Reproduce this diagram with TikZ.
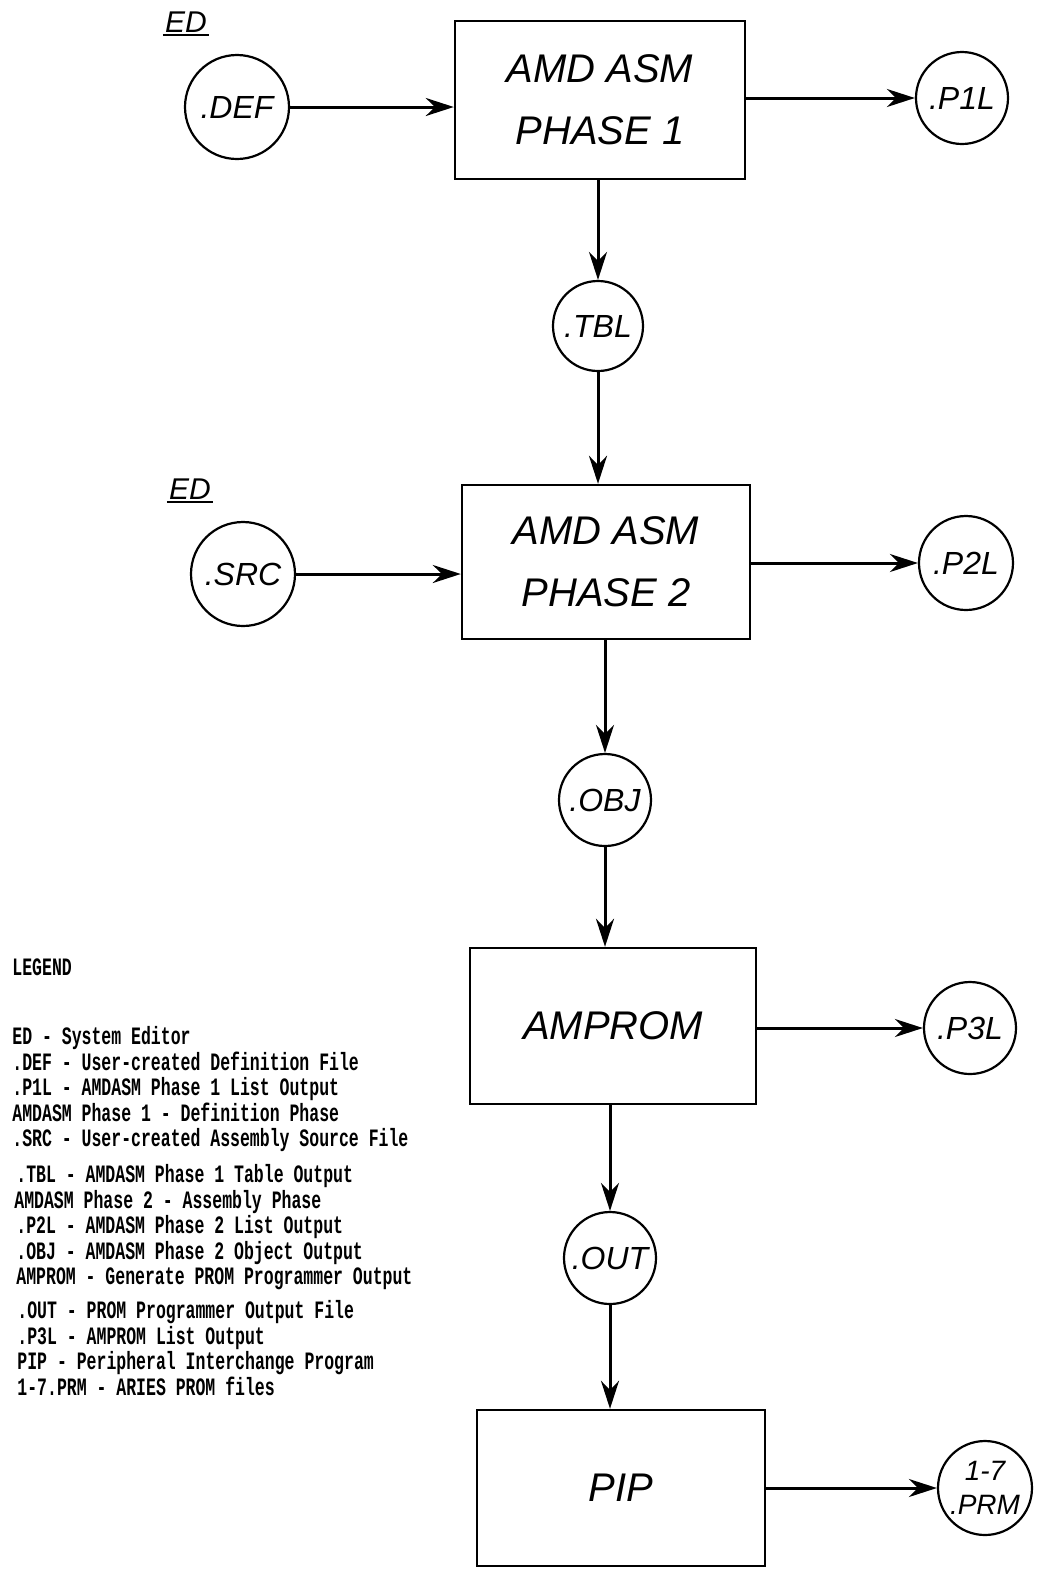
\documentclass[tikz,border=0pt]{standalone}
\usepackage{fontspec}
\usetikzlibrary{arrows.meta}
\newfontfamily\handfont{Liberation Sans}
\newfontfamily\legfont[FakeStretch=0.66]{Liberation Mono}
\newcommand\legsetup{\legfont\bfseries\fontsize{12.5}{12.8}\selectfont\setlength{\lineskiplimit}{-20pt}\setlength{\lineskip}{0pt}}
\begin{document}
\begin{tikzpicture}[x=0.5pt,y=-0.5pt,
  proc/.style={draw,line width=1.2pt,rectangle,inner sep=0pt,font=\handfont\itshape\fontsize{20}{31}\selectfont,align=center},
  file/.style={draw,line width=1.1pt,circle,inner sep=0pt,font=\handfont\itshape\fontsize{16}{19}\selectfont,align=center},
  flow/.style={line width=1.5pt,-{Stealth[length=14pt,width=9pt]}},
  edlbl/.style={font=\handfont\itshape\fontsize{15}{15}\selectfont,inner sep=1pt},
  leg/.style={font=\legsetup,anchor=north west,inner sep=0pt,align=left}]
\useasboundingbox (0,0) rectangle (1037,1570);
% process boxes
\node[proc,minimum width=145pt,minimum height=79pt] (b1) at (600,100) {AMD ASM\\PHASE 1};
\node[proc,minimum width=144pt,minimum height=77pt] (b2) at (606,562) {AMD ASM\\PHASE 2};
\node[proc,minimum width=143pt,minimum height=78pt] (b3) at (613,1026) {AMPROM};
\node[proc,minimum width=144pt,minimum height=78pt] (b4) at (621,1488) {PIP};
% files
\node[file,minimum size=52pt] (def) at (237,107) {.DEF};
\node[file,minimum size=46pt] (p1l) at (962,98) {.P1L};
\node[file,minimum size=45pt] (tbl) at (598,326) {.TBL};
\node[file,minimum size=52pt] (src) at (243,574) {.SRC};
\node[file,minimum size=47pt] (p2l) at (966,563) {.P2L};
\node[file,minimum size=46pt] (obj) at (605,800) {.OBJ};
\node[file,minimum size=46pt] (p3l) at (970,1028) {.P3L};
\node[file,minimum size=46pt] (out) at (610,1258) {.OUT};
\node[file,minimum size=47pt,font=\handfont\itshape\fontsize{14}{17}\selectfont] (prm) at (985,1488) {1-7\\.PRM};
% ED labels
\node[edlbl] (ed1) at (186,22) {ED};
\draw[line width=0.9pt] (ed1.south west) -- (ed1.south east);
\node[edlbl] (ed2) at (190,489) {ED};
\draw[line width=0.9pt] (ed2.south west) -- (ed2.south east);
% connectors
\draw[flow] (def.east) -- (def.east -| b1.west);
\draw[flow] (b1.east |- p1l) -- (p1l.west);
\draw[flow] (b1.south -| tbl) -- (tbl.north);
\draw[flow] (tbl.south) -- (tbl.south |- b2.north);
\draw[flow] (src.east) -- (src.east -| b2.west);
\draw[flow] (b2.east |- p2l) -- (p2l.west);
\draw[flow] (b2.south -| obj) -- (obj.north);
\draw[flow] (obj.south) -- (obj.south |- b3.north);
\draw[flow] (b3.east |- p3l) -- (p3l.west);
\draw[flow] (b3.south -| out) -- (out.north);
\draw[flow] (out.south) -- (out.south |- b4.north);
\draw[flow] (b4.east |- prm) -- (prm.west);
% legend
\node[leg] (lgh) at (12,958) {LEGEND};
\node[leg] (lgb) at (12,1026) {ED - System Editor\\
.DEF - User-created Definition File\\
.P1L - AMDASM Phase 1 List Output\\
AMDASM Phase 1 - Definition Phase\\
.SRC - User-created Assembly Source File\\[5pt]
\hspace*{2pt}.TBL - AMDASM Phase 1 Table Output\\
\hspace*{1pt}AMDASM Phase 2 - Assembly Phase\\
\hspace*{2pt}.P2L - AMDASM Phase 2 List Output\\
\hspace*{2pt}.OBJ - AMDASM Phase 2 Object Output\\
\hspace*{2pt}AMPROM - Generate PROM Programmer Output\\[4pt]
\hspace*{2.5pt}.OUT - PROM Programmer Output File\\
\hspace*{2.5pt}.P3L - AMPROM List Output\\
\hspace*{2.5pt}PIP - Peripheral Interchange Program\\
\hspace*{2.5pt}1-7.PRM - ARIES PROM files};
\end{tikzpicture}
\end{document}
